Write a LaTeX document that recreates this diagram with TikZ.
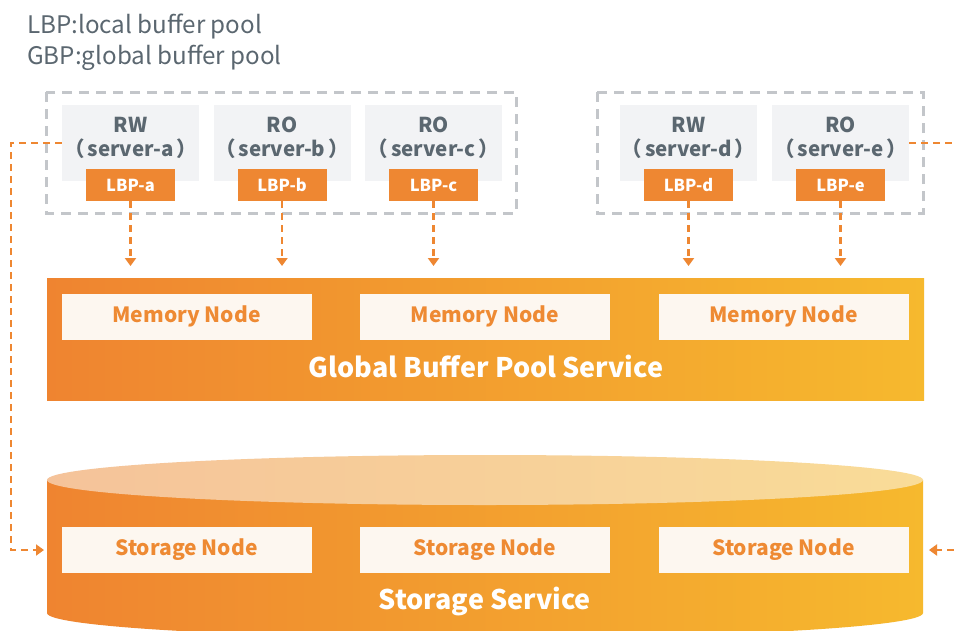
\documentclass[tikz,border=0pt]{standalone}
\usepackage{fontspec}
\setmainfont{Noto Sans CJK SC}
\usetikzlibrary{arrows.meta}
\definecolor{txtgray}{HTML}{5B6770}
\definecolor{srvfill}{HTML}{F2F3F5}
\definecolor{dashgray}{HTML}{C3C6CA}
\definecolor{lbporange}{HTML}{EE8732}
\definecolor{nodefill}{HTML}{FDF7F0}
\definecolor{nodetxt}{HTML}{EE8A33}
\definecolor{gradL}{HTML}{EF8430}
\definecolor{gradR}{HTML}{F6B92E}
\definecolor{topL}{HTML}{F5C39A}
\definecolor{topR}{HTML}{F9DC98}
\newcommand{\srvname}[1]{（\kern3pt#1\kern3pt）}
\begin{document}
\begin{tikzpicture}[x=1pt,y=-1pt,
  legend/.style={anchor=base west,inner sep=0pt,text=txtgray,font=\fontsize{24.2}{28}\selectfont},
  group/.style={draw=dashgray,line width=3pt,dash pattern=on 10pt off 7pt},
  srv/.style={fill=srvfill,minimum width=137pt,minimum height=76pt,inner sep=0pt},
  srvtext/.style={text=txtgray,align=center,inner sep=0pt,font=\bfseries\fontsize{20.5}{24}\selectfont},
  lbp/.style={fill=lbporange,text=white,minimum width=89pt,minimum height=32pt,inner sep=0pt,font=\bfseries\fontsize{16.5}{18}\selectfont},
  unit/.style={fill=nodefill,text=nodetxt,minimum width=250pt,minimum height=46pt,inner sep=0pt,font=\bfseries\fontsize{21}{24}\selectfont},
  svc/.style={text=white,inner sep=0pt,font=\bfseries\fontsize{27}{30}\selectfont},
  link/.style={draw=lbporange,line width=2.8pt,dash pattern=on 7pt off 5pt,-{Triangle[width=11pt,length=8pt]}}
]
\useasboundingbox (0,0) rectangle (954,630);
\clip (0,0) rectangle (954,630);
\fill[white] (0,0) rectangle (954,630);

% legend
\node[legend] (l1) at (27,33) {LBP:local buffer pool};
\node[legend] (l2) at (27,64) {GBP:global buffer pool};

% groups
\draw[group] (46,92) rectangle (516,213);
\draw[group] (597,92) rectangle (923,213);

% servers
\node[srv] (sa) at (130.5,143) {};
\node[srv] (sb) at (282,143) {};
\node[srv] (sc) at (433.5,143) {};
\node[srv] (sd) at (688.5,143) {};
\node[srv] (se) at (840.5,143) {};
\node[srvtext] (ta) at (130.5,138) {RW\\\srvname{server-a}};
\node[srvtext] (tb) at (282,138) {RO\\\srvname{server-b}};
\node[srvtext] (tc) at (433.5,138) {RO\\\srvname{server-c}};
\node[srvtext] (td) at (688.5,138) {RW\\\srvname{server-d}};
\node[srvtext] (te) at (840.5,138) {RO\\\srvname{server-e}};

\node[lbp] (la) at (130.5,185) {LBP-a};
\node[lbp] (lb) at (282,185) {LBP-b};
\node[lbp] (lc) at (433.5,185) {LBP-c};
\node[lbp] (ld) at (688.5,185) {LBP-d};
\node[lbp] (le) at (840.5,185) {LBP-e};

% GBP service
\path[left color=gradL,right color=gradR] (47,278) rectangle (924,400);
\coordinate (gbptop) at (0,266);
\node[unit] (m1) at (186.5,316.5) {Memory Node};
\node[unit] (m2) at (485,316.5) {Memory Node};
\node[unit] (m3) at (783.5,316.5) {Memory Node};
\node[svc] (gbp) at (486,366) {Global Buffer Pool Service};

% storage cylinder
\path[left color=gradL,right color=gradR]
  (47,480) -- (47,613) arc[start angle=180,end angle=0,x radius=438,y radius=25]
  -- (923,480) -- cycle;
\path[left color=topL,right color=topR] (485,480) ellipse[x radius=438,y radius=25];
\node[unit] (s1) at (186.5,549.5) {Storage Node};
\node[unit] (s2) at (485,549.5) {Storage Node};
\node[unit] (s3) at (783.5,549.5) {Storage Node};
\node[svc] (ss) at (485,601) {Storage Service};

% connectors
\foreach \n in {a,b,c,d,e}{
  \draw[link] (l\n.south) -- (l\n.south |- gbptop);
}
\coordinate (lc1) at (11,143);
\coordinate (lc2) at (11,550);
\coordinate (ltip) at (44,550);
\draw[link] (sa.west) -- (lc1) -- (lc2) -- (ltip);
\coordinate (rc1) at (962,143);
\coordinate (rc2) at (962,550);
\coordinate (rtip) at (929,550);
\draw[link] (se.east) -- (rc1) -- (rc2) -- (rtip);
\end{tikzpicture}
\end{document}
